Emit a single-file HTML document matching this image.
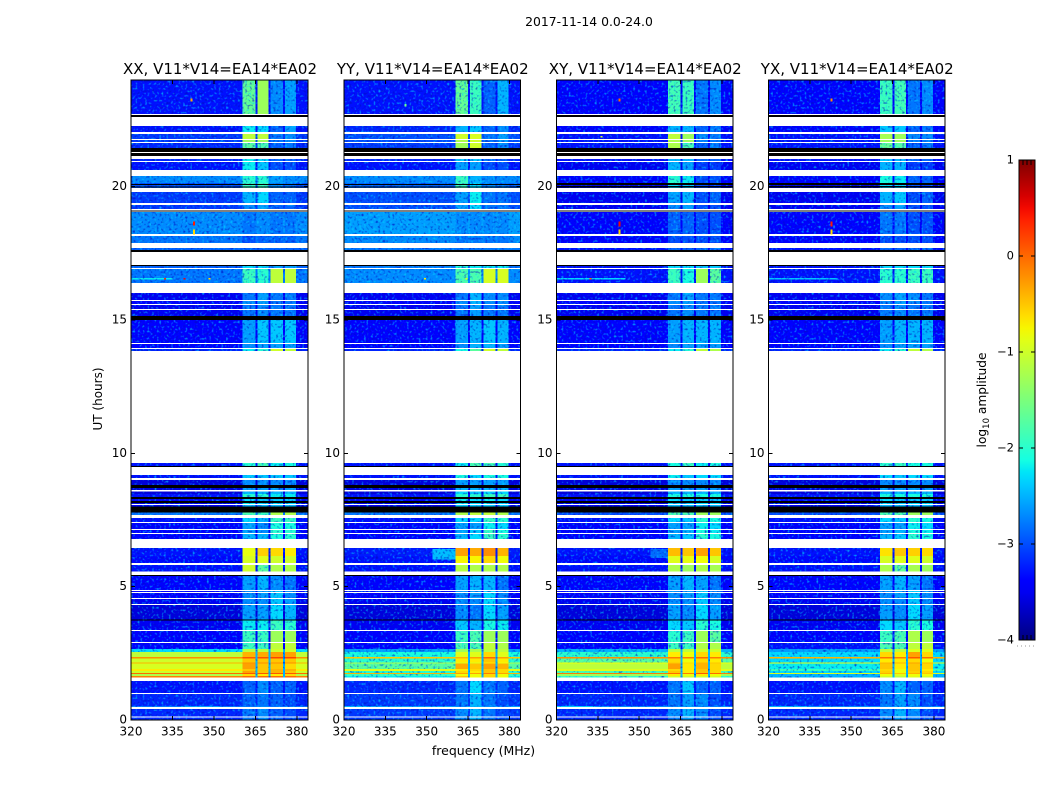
<!DOCTYPE html>
<html lang="en">
<head>
<meta charset="utf-8">
<title>2017-11-14 0.0-24.0</title>
<style>
html,body{margin:0;padding:0;background:#fff;width:1050px;height:800px;overflow:hidden}
svg{display:block}
text{font-family:"DejaVu Sans","Liberation Sans",sans-serif;fill:#000}
</style>
</head>
<body>
<svg id="chart" xmlns="http://www.w3.org/2000/svg" width="1050" height="800" viewBox="0 0 1050 800">
<defs>
<filter id="speckle" filterUnits="userSpaceOnUse" x="0" y="0" width="1050" height="800" color-interpolation-filters="sRGB">
<feTurbulence type="fractalNoise" baseFrequency="0.42" numOctaves="1" seed="4" result="t"/>
<feColorMatrix in="t" type="matrix" values="0 0 0 0 0  0 0 0 0 0.82  0 0 0 0 1  2.6 0 0 0 -1.4" result="n"/>
<feComposite in="n" in2="SourceAlpha" operator="in" result="c"/>
<feTurbulence type="fractalNoise" baseFrequency="0.42" numOctaves="1" seed="11" result="t2"/>
<feColorMatrix in="t2" type="matrix" values="0 0 0 0 0  0 0 0 0 0.05  0 0 0 0 0.75  2.6 0 0 0 -1.4" result="n2"/>
<feComposite in="n2" in2="SourceAlpha" operator="in" result="d"/>
<feMerge><feMergeNode in="SourceGraphic"/><feMergeNode in="d"/><feMergeNode in="c"/></feMerge>
</filter>
<linearGradient id="jet-gradient" x1="0" y1="1" x2="0" y2="0"></linearGradient>
</defs>
<text x="589" y="26" font-size="12.4" text-anchor="middle">2017-11-14 0.0-24.0</text>
<text x="483.5" y="755" font-size="12.5" text-anchor="middle">frequency (MHz)</text>
<text transform="translate(102,399) rotate(-90)" font-size="12" text-anchor="middle">UT (hours)</text>
<text transform="translate(986,400) rotate(-90)" font-size="12.2" text-anchor="middle">log<tspan font-size="8.5" dy="3">10</tspan><tspan dy="-3"> amplitude</tspan></text>
<g id="panels"></g>
<g id="colorbar"></g>
</svg>
<script>
const panelNames = ["XX", "YY", "XY", "YX"];
const freqTicks = [320, 335, 350, 365, 380];
const hourTicks = [0, 5, 10, 15, 20];
const colorTicks = [1, 0, -1, -2, -3, -4];
const freqEdges = [320, 360.4, 365, 365.7, 369.8, 370.5, 374.9, 375.6, 379.6, 384];
const rowHours = [
[24,22.72],[22.28,22.05],[21.98,21.79],[21.75,21.68],[21.64,21.45],[21.04,20.96],[20.93,20.63],[20.4,20.14],[20.14,19.95],[19.8,19.39],
[19.31,19.16],[19.05,18.23],[18.15,17.89],[17.7,17.63],[17.03,16.95],[16.91,16.39],[16.01,15.75],[15.71,15.6],[15.56,15.41],[15.38,15.15],
[15,14.14],[14.1,13.95],[13.91,13.84],[9.64,9.53],[9.19,9.08],[9,8.81],[8.7,8.63],[8.57,8.48],[8.48,8.36],[8.29,8.21],
[8.14,8.1],[8.06,8],[7.78,7.69],[7.58,7.43],[7.39,7.16],[7.13,7.01],[6.98,6.79],[6.45,6.15],[6.15,5.89],[5.81,5.57],
[5.4,4.88],[4.84,4.8],[4.76,4.58],[4.54,4.35],[4.31,3.75],[3.75,3.38],[3.34,2.93],[2.89,2.66],[2.66,2.55],[2.55,2.36],
[2.36,2.31],[2.31,2.16],[2.16,2.12],[2.12,1.91],[1.91,1.84],[1.84,1.76],[1.76,1.72],[1.72,1.65],[1.65,1.59],[1.46,1.01],
[0.98,0.53],[0.53,0.49],[0.41,0.13],[0.09,0]
];
const valuesXX = [
[-3,-1.35,-1.3,-2.4,-2.3],[-3,-1.9,-2,-2.6,-2.3],[-2.8,-1.1,-1.1,-2.5,-2.4],[-2.8,-1.3,-1.3,-2.5,-2.4],[-2.9,-1.4,-1.5,-2.6,-2.5],[-2.9,-1.9,-2,-2.6,-2.6],[-3,-1.9,-2.1,-2.7,-2.7],[-2.4,-1.7,-1.7,-2.3,-2.4],[-2.7,-1.6,-1.6,-2.4,-2.5],[-2.8,-2.2,-2,-2.6,-2.6],
[-2.8,-2.4,-2.3,-2.6,-2.6],[-2.4,-2.5,-2.4,-2.5,-2.5],[-2.5,-2.7,-2.6,-2.6,-2.6],[-2.6,-2.6,-2.6,-2.6,-2.6],[-2.6,-2,-2,-2.3,-2.3],[-2.5,-1.6,-1.7,-1.1,-1.1],[-3.2,-2.5,-2.3,-2.5,-2.5],[-3.1,-2.4,-2.3,-2.5,-2.5],[-3.2,-2.5,-2.4,-2.5,-2.5],[-3.2,-2.5,-2.4,-2.5,-2.5],
[-3.1,-2.3,-2.1,-2.1,-2.1],[-3.1,-2.4,-2.3,-2.3,-2.3],[-2.9,-1.9,-1.7,-1,-1.1],[-3,-1.7,-1.5,-1.9,-1.8],[-3,-2.1,-2.1,-2.1,-2.1],[-3.3,-2.4,-2.4,-2.4,-2.4],[-3.3,-2.3,-2.3,-2.3,-2.3],[-3.3,-2.2,-2.2,-2.2,-2.2],[-3,-1.7,-1.7,-1.9,-1.9],[-3.2,-2,-2.1,-2.1,-2.1],
[-3.2,-1.9,-2,-2,-2],[-3.2,-2.2,-2.2,-2.2,-2.2],[-2.5,-1.5,-1.6,-1.2,-1.2],[-3,-2,-2.2,-1.6,-1.6],[-3.1,-2.3,-2.4,-1.8,-1.8],[-3.1,-2.3,-2.4,-1.7,-1.7],[-3.1,-2.2,-2.2,-1.8,-1.7],[-3,-0.85,-0.55,-0.6,-0.7],[-3.05,-0.95,-0.9,-1,-1],[-3,-1,-1.4,-1.2,-1.2],
[-3.1,-2.3,-2.2,-2.4,-2.5],[-3.1,-2.4,-2.3,-2.1,-2.4],[-3.1,-2.4,-2.3,-2.1,-2.4],[-3.2,-2.4,-2.4,-2.1,-2.3],[-3.3,-2.3,-2.3,-2,-2.2],[-3.2,-1.9,-1.9,-1.6,-1.7],[-3.1,-1.6,-1.6,-1.3,-1.3],[-3.1,-1.6,-1.6,-1.1,-1.1],[-2,-1.1,-1.1,-1,-1],[-1.1,-0.4,-0.35,-0.3,-0.3],
[-0.2,0.1,0.15,0.2,0.2],[-1,-0.5,-0.5,-0.5,-0.5],[-0.4,-0.2,-0.2,-0.2,-0.2],[-0.95,-0.3,-0.5,-0.5,-0.6],[-0.7,-0.5,-0.5,-0.4,-0.4],[-1,-0.3,-0.5,-0.4,-0.5],[0,0.1,0.1,0.1,0.1],[-1.2,-0.6,-0.7,-0.7,-0.6],[-0.1,0,0,0,0],[-3,-2.6,-2.4,-2.6,-2.6],
[-2.9,-2.6,-2.5,-2.6,-2.7],[-2.5,-2.5,-2.4,-2.5,-2.5],[-2.9,-2.5,-2.4,-2.6,-2.7],[-2.9,-2.5,-2.4,-2.6,-2.7]
];
const valuesYY = [
[-3,-1.35,-1.6,-2.6,-2.2],[-2.9,-2.2,-2.1,-2.6,-2.4],[-2.7,-1,-0.95,-2.5,-2.3],[-2.7,-1.2,-1,-2.5,-2.3],[-2.8,-1.3,-1,-2.6,-2.4],[-2.9,-2.1,-2.1,-2.6,-2.6],[-3,-2.3,-2.3,-2.7,-2.7],[-2.4,-1.6,-2.2,-2.4,-2.4],[-2.6,-1.6,-2,-2.4,-2.5],[-2.7,-2.3,-1.9,-2.5,-2.5],
[-2.7,-2.3,-2,-2.5,-2.5],[-2.3,-2.4,-2.4,-2.4,-2.4],[-2.4,-2.5,-2.5,-2.5,-2.5],[-2.5,-2.5,-2.5,-2.5,-2.5],[-2.5,-1.8,-1.9,-1.9,-1.9],[-2.4,-1.5,-1.5,-0.95,-0.95],[-3.2,-2.5,-2.2,-2.4,-2.4],[-3.1,-2.4,-2.2,-2.4,-2.4],[-3.2,-2.5,-2.3,-2.5,-2.5],[-3.2,-2.5,-2.3,-2.5,-2.5],
[-3.1,-2.3,-2.2,-2.1,-2.2],[-3.1,-2.4,-2.2,-2.2,-2.3],[-2.9,-1.8,-1.4,-1,-1.1],[-3,-1.9,-1.5,-1.5,-1.7],[-3,-1.8,-2,-1.8,-1.8],[-3.3,-2.3,-2.3,-2.3,-2.3],[-3.3,-2.2,-2.2,-2.2,-2.2],[-3.3,-2,-2.1,-2,-2],[-3,-1.7,-1.7,-1.6,-1.6],[-3.2,-1.9,-2,-1.9,-2],
[-3.2,-1.9,-2,-1.9,-2],[-3.2,-2.1,-2.1,-2.1,-2.1],[-2.5,-1.2,-1.1,-1.1,-1.2],[-3,-2,-2,-1.6,-1.7],[-3.1,-2.3,-2.3,-1.9,-2],[-3.1,-2.3,-2.1,-1.6,-1.8],[-3.1,-2.2,-2,-1.6,-1.7],[-2.95,-0.3,-0.35,-0.2,-0.4],[-3,-0.75,-0.75,-0.6,-0.8],[-3,-1.15,-1.2,-1.2,-1.2],
[-3.1,-2.3,-2.2,-2.2,-2.5],[-3.1,-2.4,-2.3,-2,-2.4],[-3.1,-2.4,-2.3,-2,-2.4],[-3.2,-2.4,-2.4,-2,-2.4],[-3.3,-2.4,-2.5,-2,-2.3],[-3.2,-2.1,-2.2,-1.8,-1.9],[-3.1,-1.6,-1.5,-1.3,-1.3],[-3.1,-1.5,-1.5,-1.1,-1.2],[-2.3,-1.3,-1.2,-1.1,-1.1],[-1.8,-0.9,-0.9,-0.6,-0.9],
[-0.5,-0.4,-0.3,0,-0.3],[-1.7,-0.7,-0.7,-0.5,-0.7],[-1.2,-0.9,-0.9,-0.7,-0.8],[-1.4,-0.35,-0.5,-0.3,-0.4],[-0.9,-0.7,-0.6,-0.5,-0.6],[-1.7,-0.6,-0.7,-0.5,-0.6],[-0.4,-0.3,-0.3,-0.1,-0.3],[-1.6,-0.8,-0.8,-0.6,-0.8],[-1.9,-0.5,-0.8,-0.6,-0.8],[-2.9,-2.5,-2,-2.5,-2.6],
[-2.8,-2.5,-2.2,-2.5,-2.7],[-2.3,-2.4,-2.2,-2.4,-2.5],[-2.8,-2.4,-2.2,-2.5,-2.7],[-2.8,-2.4,-2.2,-2.5,-2.7]
];
const valuesXY = [
[-3.1,-1.55,-1.6,-2.5,-2.4],[-3.1,-2.2,-2.2,-2.6,-2.5],[-3,-1.1,-1.3,-2.4,-2.5],[-3,-1.2,-1.3,-2.5,-2.5],[-3,-1.2,-1.5,-2.6,-2.5],[-3,-2.2,-2.2,-2.6,-2.6],[-3.2,-2.2,-2.3,-2.8,-2.8],[-3.1,-1.7,-1.9,-2.7,-2.7],[-3.3,-2,-2.1,-2.7,-2.8],[-3.2,-2.3,-2.2,-2.7,-2.6],
[-3.2,-2.4,-2.3,-2.7,-2.7],[-3.1,-2.6,-2.6,-2.7,-2.7],[-3.1,-2.7,-2.7,-2.7,-2.7],[-3,-2.6,-2.6,-2.6,-2.6],[-3,-2,-2,-2.1,-2.1],[-3,-1.6,-1.8,-1.3,-1.4],[-3.2,-2.5,-2.3,-2.5,-2.5],[-3.1,-2.4,-2.3,-2.5,-2.5],[-3.2,-2.5,-2.4,-2.5,-2.5],[-3.2,-2.5,-2.4,-2.5,-2.5],
[-3.1,-2.3,-2.2,-2.2,-2.2],[-3.1,-2.4,-2.3,-2.3,-2.3],[-2.9,-1.9,-1.7,-1.1,-1.2],[-3,-1.8,-1.6,-1.9,-1.8],[-3,-1.9,-2.1,-2,-2],[-3.3,-2.4,-2.4,-2.4,-2.4],[-3.3,-2.3,-2.3,-2.3,-2.3],[-3.3,-2.2,-2.2,-2.2,-2.2],[-3,-1.8,-1.8,-1.8,-1.8],[-3.2,-2,-2.1,-2.1,-2.1],
[-3.2,-2,-2.1,-2,-2],[-3.2,-2.2,-2.2,-2.2,-2.2],[-2.7,-1.5,-1.5,-1.3,-1.3],[-3,-2,-2.1,-1.7,-1.8],[-3.1,-2.3,-2.3,-1.9,-2],[-3.1,-2.3,-2.2,-1.8,-1.9],[-3.1,-2.2,-2.1,-1.7,-1.8],[-3,-0.45,-0.5,-0.3,-0.5],[-3.05,-0.9,-0.85,-0.8,-0.95],[-3,-1.2,-1.3,-1.2,-1.25],
[-3.1,-2.3,-2.2,-2.3,-2.5],[-3.1,-2.4,-2.3,-2.1,-2.4],[-3.1,-2.4,-2.3,-2.1,-2.4],[-3.2,-2.4,-2.4,-2.1,-2.4],[-3.3,-2.3,-2.4,-2,-2.3],[-3.2,-2,-2.1,-1.7,-1.8],[-3.1,-1.7,-1.6,-1.3,-1.4],[-3.1,-1.6,-1.6,-1.2,-1.2],[-2.2,-1.1,-1.1,-1,-1],[-1.7,-0.7,-0.8,-0.6,-0.7],
[-0.2,-0.1,-0.1,0,-0.1],[-1.4,-0.6,-0.8,-0.6,-0.7],[-0.8,-0.5,-0.6,-0.4,-0.5],[-1.1,-0.3,-0.7,-0.4,-0.6],[-0.9,-0.6,-0.7,-0.5,-0.6],[-1.5,-0.5,-0.7,-0.5,-0.6],[-0.1,0,-0.1,0.1,0],[-1.3,-0.7,-0.8,-0.7,-0.8],[-1.6,-1,-1,-1,-1],[-3,-2.5,-2.1,-2.6,-2.6],
[-2.9,-2.5,-2.3,-2.4,-2.7],[-2.4,-2.4,-2.3,-2.4,-2.5],[-2.9,-2.4,-2.2,-2.4,-2.7],[-2.9,-2.5,-2.3,-2.5,-2.7]
];
const valuesYX = [
[-3.1,-1.6,-1.55,-2.5,-2.4],[-3.1,-2.1,-2.1,-2.6,-2.5],[-3,-1.25,-1.3,-2.4,-2.4],[-3,-1.3,-1.3,-2.5,-2.5],[-3,-1.35,-1.45,-2.6,-2.5],[-3,-2.1,-2.2,-2.6,-2.6],[-3.2,-2.2,-2.2,-2.8,-2.8],[-3.1,-1.8,-1.9,-2.6,-2.6],[-3.3,-2,-2,-2.7,-2.8],[-3.2,-2.2,-2.1,-2.7,-2.6],
[-3.2,-2.4,-2.3,-2.7,-2.7],[-3.1,-2.5,-2.5,-2.7,-2.7],[-3.1,-2.7,-2.7,-2.7,-2.7],[-3,-2.6,-2.6,-2.6,-2.6],[-3,-2,-2,-2,-2],[-3,-1.7,-1.7,-1.6,-1.6],[-3.2,-2.4,-2.3,-2.4,-2.5],[-3.1,-2.4,-2.3,-2.4,-2.5],[-3.2,-2.5,-2.4,-2.5,-2.5],[-3.2,-2.5,-2.4,-2.5,-2.5],
[-3.1,-2.3,-2.2,-2.2,-2.2],[-3.1,-2.4,-2.3,-2.3,-2.3],[-2.9,-1.9,-1.7,-1.1,-1.2],[-3,-1.7,-1.6,-1.8,-1.8],[-3,-2,-2.1,-2,-2],[-3.3,-2.4,-2.4,-2.4,-2.4],[-3.3,-2.3,-2.3,-2.3,-2.3],[-3.3,-2.2,-2.2,-2.2,-2.2],[-3,-1.8,-1.8,-1.8,-1.8],[-3.2,-2,-2.1,-2.1,-2.1],
[-3.2,-2,-2.1,-2,-2],[-3.2,-2.2,-2.2,-2.2,-2.2],[-2.7,-1.5,-1.5,-1.3,-1.3],[-3,-2,-2.1,-1.7,-1.8],[-3.1,-2.3,-2.3,-1.9,-2],[-3.1,-2.3,-2.2,-1.8,-1.9],[-3.1,-2.2,-2.1,-1.7,-1.8],[-3,-0.65,-0.5,-0.55,-0.6],[-3.05,-0.95,-0.9,-0.9,-1],[-3,-1.2,-1.35,-1.25,-1.3],
[-3.1,-2.3,-2.2,-2.3,-2.5],[-3.1,-2.4,-2.3,-2.1,-2.4],[-3.1,-2.4,-2.3,-2.1,-2.4],[-3.2,-2.4,-2.4,-2.1,-2.4],[-3.3,-2.3,-2.4,-2,-2.3],[-3.2,-2,-2.1,-1.7,-1.8],[-3.1,-1.6,-1.5,-1.2,-1.3],[-3,-1.5,-1.5,-1.1,-1.1],[-2.3,-1.1,-1.1,-0.9,-0.9],[-2,-0.6,-0.7,-0.3,-0.6],
[-0.4,-0.05,-0.1,0.1,0],[-2,-0.7,-0.7,-0.6,-0.8],[-0.8,-0.4,-0.4,-0.3,-0.4],[-1.9,-0.5,-0.7,-0.5,-0.6],[-1.6,-0.6,-0.8,-0.5,-0.7],[-2,-0.55,-0.8,-0.55,-0.6],[-0.9,-0.4,-0.5,-0.4,-0.5],[-2.2,-0.8,-0.9,-0.8,-0.8],[-2.2,-1,-1.1,-0.9,-1],[-3,-2.4,-2.2,-2.6,-2.6],
[-2.9,-2.5,-2.3,-2.4,-2.7],[-2.4,-2.4,-2.3,-2.4,-2.5],[-2.9,-2.4,-2.2,-2.4,-2.7],[-2.9,-2.5,-2.3,-2.5,-2.7]
];
const panelValues = [valuesXX, valuesYY, valuesXY, valuesYX];
const blackHours = [[22.69,22.61],[21.45,21.3],[21.26,21.15],[20.1,20.07],[20,19.96],[19.1,19.06],[17.63,17.55],[17.06,17.03],[15.15,15],[9.53,9.5],[8.81,8.7],[8.36,8.29],[8.21,8.14],[8,7.78],[5.44,5.4],[3.77,3.75]];
const blackHoursCross = [[20.14,20.09],[20.03,19.97]];
const patchesXX = [[320,335,16.58,16.52,-1.9],[338,352,0.52,0.49,-2.3]];
const patchesYY = [[352,360.4,6.42,6.02,-2.15],[320,328,0.53,0.49,-2.2]];
const patchesXY = [[354,360.4,6.42,6.08,-2.55],[320,334,0.53,0.49,-2.1],[320,345,16.58,16.52,-2]];
const patchesYX = [[320,334,0.53,0.49,-2.2],[320,345,16.58,16.52,-2.1]];
const panelPatches = [patchesXX, patchesYY, patchesXY, patchesYX];
const spikesXX = [[342.5,18.7,18.55,0.4],[342.5,18.4,18.2,-0.6],[332,16.58,16.52,0.3],[348,16.58,16.52,-0.6],[339,16.58,16.52,0.5],[341.5,23.3,23.2,-0.3]];
const spikesYY = [[342,23.1,23,-1.6],[364,16.58,16.52,-0.9],[349,16.58,16.52,-0.7]];
const spikesXY = [[342.5,18.7,18.5,0.5],[342.5,18.4,18.2,-0.6],[342.5,23.3,23.2,0],[332,16.58,16.52,0],[336,21.9,21.85,-1]];
const spikesYX = [[342.5,18.7,18.5,0.4],[342.5,18.4,18.2,-0.6],[342.5,23.3,23.2,-0.2]];
const panelSpikes = [spikesXX, spikesYY, spikesXY, spikesYX];

const NS = "http://www.w3.org/2000/svg";
const panelLefts = [131, 344, 556.5, 768.5];
const panelRights = [308, 520.5, 733, 945];
const plotTop = 80, plotBottom = 720;
const hotThreshold = -1.3;
const coldShift = 0.3;
const hourScale = h => plotBottom - (h / 24) * (plotBottom - plotTop);
const freqScaleFor = i => f => panelLefts[i] + ((f - 320) / 64) * (panelRights[i] - panelLefts[i]);
const ampToFrac = a => (a + 4) / 5;
function jet(t) {
  t = Math.max(0, Math.min(1, t));
  const seg = (pts) => {
    for (let k = 1; k < pts.length; k++) {
      if (t <= pts[k][0]) {
        const p = pts[k - 1], q = pts[k];
        return p[1] + (q[1] - p[1]) * (t - p[0]) / (q[0] - p[0]);
      }
    }
    return pts[pts.length - 1][1];
  };
  const r = seg([[0, 0], [0.35, 0], [0.66, 1], [0.89, 1], [1, 0.5]]);
  const g = seg([[0, 0], [0.125, 0], [0.375, 1], [0.64, 1], [0.91, 0], [1, 0]]);
  const b = seg([[0, 0.5], [0.11, 1], [0.34, 1], [0.65, 0], [1, 0]]);
  return "rgb(" + Math.round(r * 255) + "," + Math.round(g * 255) + "," + Math.round(b * 255) + ")";
}
const ampColor = a => jet(ampToFrac(a));
function make(tag, attrs, parent) {
  const el = document.createElementNS(NS, tag);
  for (const k in attrs) el.setAttribute(k, attrs[k]);
  parent.appendChild(el);
  return el;
}
const panelsRoot = document.getElementById("panels");
panelNames.forEach((name, p) => {
  const x = freqScaleFor(p);
  const group = make("g", {}, panelsRoot);
  
  

  const title = make("text", { x: (panelLefts[p] + panelRights[p]) / 2 + 0.5, y: 74, "font-size": 15, "text-anchor": "middle" }, group);
  title.textContent = name + ", V11*V14=EA14*EA02";
  
  

  const cells = make("g", { filter: "url(#speckle)", "shape-rendering": "crispEdges" }, group);
  
  
  const hotCells = make("g", { "shape-rendering": "crispEdges" }, group);
  
  
  const addCell = (f0, f1, h0, h1, amp, parent) => {
    const rect = make("rect", { x: x(f0), y: hourScale(h0), width: x(f1) - x(f0), height: Math.max(1, hourScale(h1) - hourScale(h0)), fill: ampColor(amp) }, parent);
    
    
  };
  const addData = (f0, f1, h0, h1, amp) => {
    if (amp >= hotThreshold) addCell(f0, f1, h0, h1, amp, hotCells);
    else addCell(f0, f1, h0, h1, amp - coldShift, cells);
  };
  rowHours.forEach((row, r) => {
    const v = panelValues[p][r];
    const gap = Math.min(v[0], -2.2);
    const cols = [v[0], v[1], gap, v[2], gap, v[3], gap, v[4], v[0]];
    cols.forEach((amp, c) => addData(freqEdges[c], freqEdges[c + 1], row[0], row[1], amp));
  });
  panelPatches[p].forEach(s => addData(s[0], s[1], s[2], s[3], s[4]));

  const sharp = make("g", { "shape-rendering": "crispEdges" }, group);
  
  
  panelSpikes[p].forEach(s => addCell(s[0], s[0] + 0.7, s[1], s[2], s[3], sharp));
  const blacks = p >= 2 ? blackHours.concat(blackHoursCross) : blackHours;
  blacks.forEach(b => {
    const band = make("rect", { x: panelLefts[p], y: hourScale(b[0]), width: panelRights[p] - panelLefts[p], height: Math.max(1, hourScale(b[1]) - hourScale(b[0])), fill: "#000" }, sharp);
    
    
  });

  const frame = make("rect", { x: panelLefts[p], y: plotTop, width: panelRights[p] - panelLefts[p], height: plotBottom - plotTop, fill: "none", stroke: "#000", "stroke-width": 1, "shape-rendering": "crispEdges" }, group);
  
  

  freqTicks.forEach(f => {
    const tx = x(f);
    const t1 = make("line", { x1: tx, x2: tx, y1: plotBottom, y2: plotBottom - 4, stroke: "#000", "shape-rendering": "crispEdges" }, group);
    
    
    const t2 = make("line", { x1: tx, x2: tx, y1: plotTop, y2: plotTop + 4, stroke: "#000", "shape-rendering": "crispEdges" }, group);
    
    
    const lab = make("text", { x: tx, y: 735.5, "font-size": 12, "text-anchor": "middle" }, group);
    lab.textContent = f;
    
    
  });
  hourTicks.forEach(h => {
    const ty = hourScale(h);
    const t1 = make("line", { x1: panelLefts[p], x2: panelLefts[p] + 4, y1: ty, y2: ty, stroke: "#000", "shape-rendering": "crispEdges" }, group);
    
    
    const t2 = make("line", { x1: panelRights[p], x2: panelRights[p] - 4, y1: ty, y2: ty, stroke: "#000", "shape-rendering": "crispEdges" }, group);
    
    
    const lab = make("text", { x: panelLefts[p] - 4, y: ty + 3.5, "font-size": 12, "text-anchor": "end" }, group);
    lab.textContent = h;
    
    
  });
});

const cb = document.getElementById("colorbar");
const cbLeft = 1019, cbRight = 1035, cbTop = 160, cbBottom = 640;
const cbY = a => cbBottom - ampToFrac(a) * (cbBottom - cbTop);
const gradient = document.getElementById("jet-gradient");
for (let k = 0; k <= 40; k++) {
  make("stop", { offset: k / 40, "stop-color": jet(k / 40) }, gradient);
}
const bar = make("rect", { x: cbLeft, y: cbTop, width: cbRight - cbLeft, height: cbBottom - cbTop, fill: "url(#jet-gradient)", stroke: "#000", "shape-rendering": "crispEdges" }, cb);


colorTicks.forEach(a => {
  const ty = cbY(a);
  const t1 = make("line", { x1: cbLeft, x2: cbLeft + 4, y1: ty, y2: ty, stroke: "#000", "shape-rendering": "crispEdges" }, cb);
  
  
  const t2 = make("line", { x1: cbRight, x2: cbRight - 4, y1: ty, y2: ty, stroke: "#000", "shape-rendering": "crispEdges" }, cb);
  
  
  const lab = make("text", { x: cbLeft - 5, y: ty + 3.5, "font-size": 11.5, "text-anchor": "end" }, cb);
  lab.textContent = a < 0 ? "\u2212" + Math.abs(a) : String(a);
  
  
});
[1023, 1027, 1031].forEach(tx => {
  const t1 = make("line", { x1: tx, x2: tx, y1: cbTop, y2: cbTop + 5, stroke: "#000", "shape-rendering": "crispEdges" }, cb);
  
  
  const t2 = make("line", { x1: tx, x2: tx, y1: cbBottom, y2: cbBottom - 5, stroke: "#000", "shape-rendering": "crispEdges" }, cb);
  
  
});
const dots = make("line", { x1: 1017, x2: 1035, y1: 646, y2: 646, stroke: "#999", "stroke-dasharray": "1 3", "shape-rendering": "crispEdges" }, cb);


</script>
</body>
</html>
